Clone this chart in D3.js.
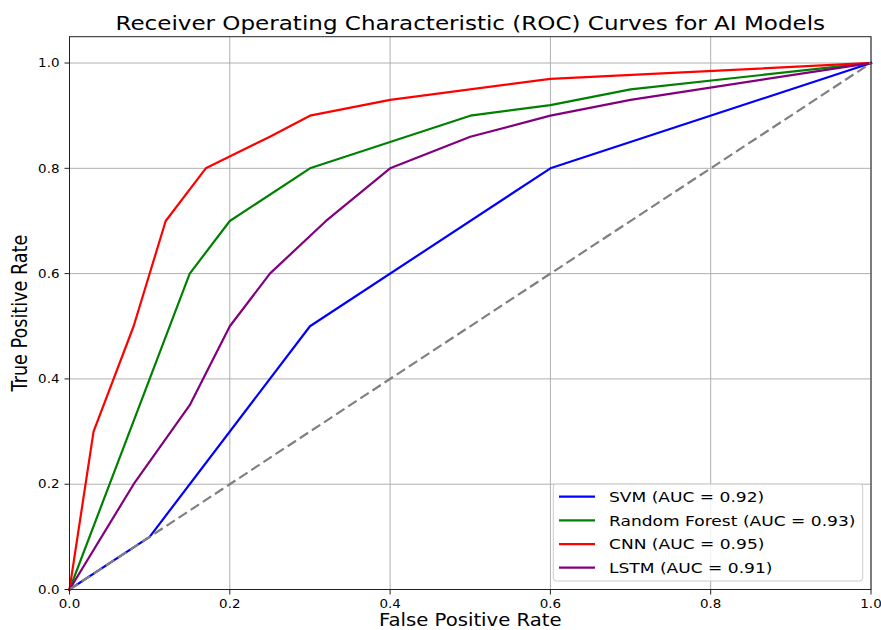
<!DOCTYPE html>
<html>
<head>
<meta charset="utf-8">
<script src="https://cdn.jsdelivr.net/npm/d3@7"></script>
<style>
  html, body { margin: 0; padding: 0; background: #fff; }
  svg { display: block; }
  text { font-family: "DejaVu Sans", sans-serif; fill: #000; }
</style>
</head>
<body>
<svg id="chart" width="881" height="630"></svg>
<script>
// ---- data ----
const titleText = "Receiver Operating Characteristic (ROC) Curves for AI Models";
const xLabel = "False Positive Rate";
const yLabel = "True Positive Rate";
const xTicks = [0.0, 0.2, 0.4, 0.6, 0.8, 1.0];
const yTicks = [0.0, 0.2, 0.4, 0.6, 0.8, 1.0];

const svmFpr = [0, 0.1, 0.3, 0.6, 1.0];
const svmTpr = [0, 0.1, 0.5, 0.8, 1.0];

const rfFpr = [0, 0.15, 0.2, 0.3, 0.5, 0.6, 0.7, 1.0];
const rfTpr = [0, 0.6, 0.7, 0.8, 0.9, 0.92, 0.95, 1.0];

const cnnFpr = [0, 0.03, 0.08, 0.12, 0.17, 0.25, 0.3, 0.4, 0.6, 1.0];
const cnnTpr = [0, 0.3, 0.5, 0.7, 0.8, 0.86, 0.9, 0.93, 0.97, 1.0];

const lstmFpr = [0, 0.08, 0.15, 0.2, 0.25, 0.32, 0.4, 0.5, 0.6, 0.7, 1.0];
const lstmTpr = [0, 0.2, 0.35, 0.5, 0.6, 0.7, 0.8, 0.86, 0.9, 0.93, 1.0];

const modelNames = ["SVM", "Random Forest", "CNN", "LSTM"];
const modelAuc = [0.92, 0.93, 0.95, 0.91];
const modelColors = ["#0000ff", "#008000", "#ff0000", "#800080"];
const chanceFpr = [0, 1];
const chanceTpr = [0, 1];

// ---- layout ----
const SX = 1.17; // horizontal glyph stretch seen in reference
const mLeft = 69.5, mRight = 871, mTop = 36.7, mBottom = 589.5;
const svg = d3.select("#chart");

const x = d3.scaleLinear().domain([0, 1.0]).range([mLeft, mRight]);
const y = d3.scaleLinear().domain([0, 1.05]).range([mBottom, mTop]);

function stext(parent, tx, ty, str, size, anchor, rotate) {
  const g = parent.append("g")
    .attr("transform", `translate(${tx},${ty}) scale(${SX},1)` + (rotate ? ` rotate(${rotate})` : ""));
  return g.append("text").attr("x", 0).attr("y", 0)
    .attr("font-size", size).attr("text-anchor", anchor).text(str);
}

// grid
const grid = svg.append("g");
grid.selectAll(".gx").data(xTicks).join("line")
  .attr("x1", d => x(d)).attr("x2", d => x(d))
  .attr("y1", mTop).attr("y2", mBottom)
  .attr("stroke", "#b0b0b0").attr("stroke-width", 1);
grid.selectAll(".gy").data(yTicks).join("line")
  .attr("x1", mLeft).attr("x2", mRight)
  .attr("y1", d => y(d)).attr("y2", d => y(d))
  .attr("stroke", "#b0b0b0").attr("stroke-width", 1);

// curves
const series = [
  [svmFpr, svmTpr], [rfFpr, rfTpr], [cnnFpr, cnnTpr], [lstmFpr, lstmTpr]
];
const line = d3.line().x(d => x(d[0])).y(d => y(d[1]));
const plot = svg.append("g");
series.forEach((s, i) => {
  const pts = s[0].map((v, j) => [v, s[1][j]]);
  plot.append("path").datum(pts).attr("d", line)
    .attr("fill", "none").attr("stroke", modelColors[i])
    .attr("stroke-width", 2.2).attr("stroke-linejoin", "round").attr("stroke-linecap", "square");
});
plot.append("path").datum(chanceFpr.map((v, j) => [v, chanceTpr[j]])).attr("d", line)
  .attr("fill", "none").attr("stroke", "#808080").attr("stroke-width", 2.2)
  .attr("stroke-dasharray", "10,4.5");

// axes frame
svg.append("rect").attr("x", mLeft).attr("y", mTop)
  .attr("width", mRight - mLeft).attr("height", mBottom - mTop)
  .attr("fill", "none").attr("stroke", "#222").attr("stroke-width", 1);

// x ticks
const xa = svg.append("g");
xTicks.forEach(t => {
  xa.append("line").attr("x1", x(t)).attr("x2", x(t)).attr("y1", mBottom).attr("y2", mBottom + 5)
    .attr("stroke", "#222").attr("stroke-width", 1);
  stext(xa, x(t), 607.5, d3.format(".1f")(t), 11.5, "middle");
});
// y ticks
const ya = svg.append("g");
yTicks.forEach(t => {
  ya.append("line").attr("x1", mLeft - 5).attr("x2", mLeft).attr("y1", y(t)).attr("y2", y(t))
    .attr("stroke", "#222").attr("stroke-width", 1);
  stext(ya, 59.5, y(t) + 4.2, d3.format(".1f")(t), 11.5, "end");
});

// labels
stext(svg, (mLeft + mRight) / 2, 30, titleText, 19.7, "middle");
stext(svg, (mLeft + mRight) / 2, 626, xLabel, 16.8, "middle");
stext(svg, 26.5, (mTop + mBottom) / 2, yLabel, 17.6, "middle", -90);

// legend
const lg = svg.append("g");
lg.append("rect").attr("x", 553.3).attr("y", 484).attr("width", 309.4).attr("height", 97)
  .attr("rx", 3).attr("fill", "#fff").attr("fill-opacity", 0.8)
  .attr("stroke", "#cccccc").attr("stroke-width", 1);
const rowY = d3.scaleLinear().domain([0, 3]).range([496.7, 567.7]);
modelNames.forEach((n, i) => {
  lg.append("line").attr("x1", 559).attr("x2", 595)
    .attr("y1", rowY(i)).attr("y2", rowY(i))
    .attr("stroke", modelColors[i]).attr("stroke-width", 2.2);
  stext(lg, 609, rowY(i) + 5.4, `${n} (AUC = ${d3.format(".2f")(modelAuc[i])})`, 14.6, "start");
});
</script>
</body>
</html>
